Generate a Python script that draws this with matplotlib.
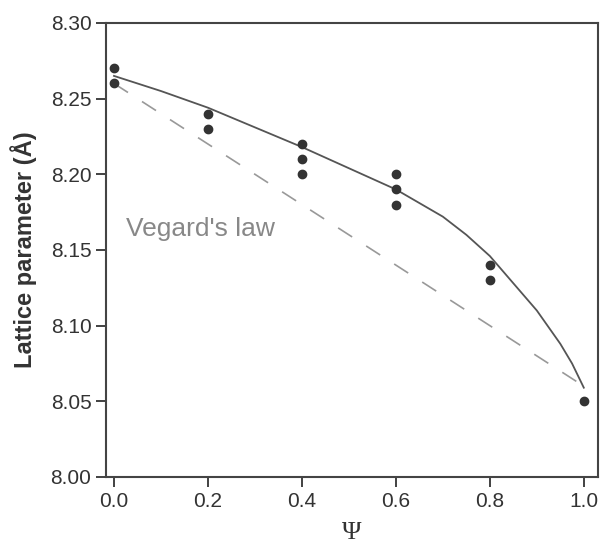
import numpy as np
import matplotlib.pyplot as plt

plt.rcParams['font.family'] = ['Liberation Sans', 'DejaVu Sans']

# measured lattice parameters
psi = [0.0, 0.0, 0.2, 0.2, 0.4, 0.4, 0.4, 0.6, 0.6, 0.6, 0.8, 0.8, 1.0]
lat = [8.27, 8.26, 8.24, 8.23, 8.22, 8.21, 8.20, 8.20, 8.19, 8.18, 8.14, 8.13, 8.05]

# fitted curve
fit_x = [0.0, 0.1, 0.2, 0.3, 0.4, 0.5, 0.55, 0.6, 0.65, 0.7, 0.75, 0.8,
         0.85, 0.9, 0.95, 0.975, 1.0]
fit_y = [8.265, 8.255, 8.244, 8.231, 8.218, 8.204, 8.197, 8.190, 8.181, 8.172, 8.160, 8.146,
         8.128, 8.110, 8.088, 8.075, 8.059]

# Vegard's law line
veg_x = [0.0, 1.0]
veg_y = [8.26, 8.06]

fig = plt.figure(figsize=(6.07, 5.46), dpi=100)
ax = fig.add_axes([0.1746, 0.1264, 0.8104, 0.8316])

ax.plot(veg_x, veg_y, color='#999999', lw=1.2, dashes=(10, 10))
ax.plot(fit_x, fit_y, color='#555555', lw=1.3)
ax.plot(psi, lat, 'o', color='#333333', ms=6)

ax.text(0.025, 8.159, "Vegard's law", color='#888888', fontsize=19)

ax.set_xlim(-0.017, 1.03)
ax.set_ylim(8.0, 8.3)
ax.set_xticks(np.arange(0, 1.01, 0.2))
ax.set_xticklabels(['0.0', '0.2', '0.4', '0.6', '0.8', '1.0'])
ax.set_yticks(np.arange(8.0, 8.301, 0.05))
ax.set_yticklabels(['8.00', '8.05', '8.10', '8.15', '8.20', '8.25', '8.30'])
ax.tick_params(labelsize=15, colors='#333333', length=7, width=1.3, direction='out')
for s in ax.spines.values():
    s.set_color('#444444')
    s.set_linewidth(1.5)

ax.set_xlabel('Ψ', fontsize=19, family=['Liberation Serif', 'DejaVu Serif'], color='#333333', labelpad=8)
ax.set_ylabel('Lattice parameter (Å)', fontsize=17, fontweight='bold', color='#333333', labelpad=10)

fig.savefig('out.png', dpi=100)
